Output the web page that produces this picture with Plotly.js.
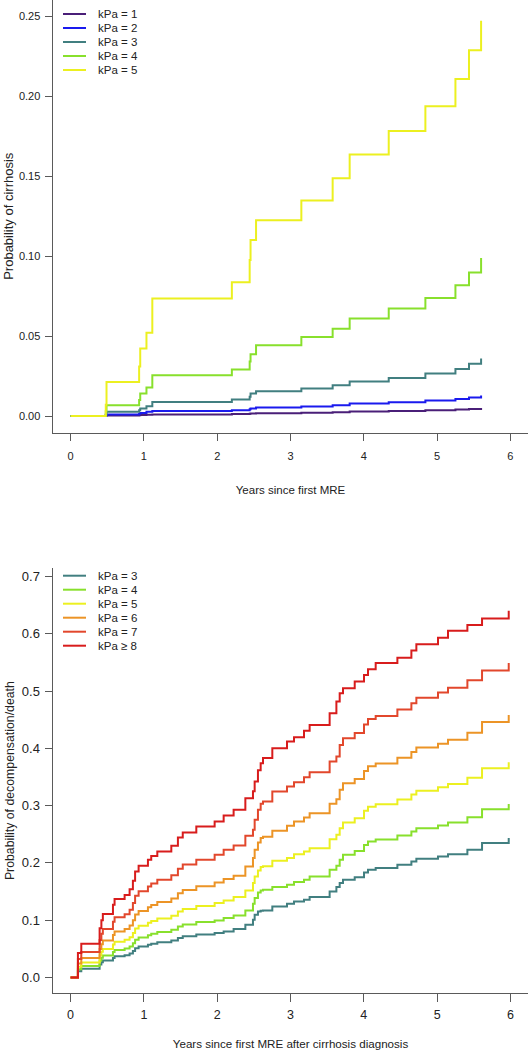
<!DOCTYPE html>
<html>
<head>
<meta charset="utf-8">
<script src="https://cdn.plot.ly/plotly-3.0.1.min.js"></script>
<style>
html,body{margin:0;padding:0;background:#ffffff;}
#chart{width:529px;height:1050px;}
</style>
</head>
<body>
<div id="chart"></div>
<script>
// ---------------- Top panel: probability of cirrhosis ----------------
const cirrhosisYears = [0, 0.48, 0.49, 0.935, 0.95, 1.035, 1.115, 2.20, 2.443, 2.455, 2.53, 3.148, 3.575, 3.807, 4.34, 4.84, 5.25, 5.435, 5.60];
const cirrhosisKpa1 = [0, 0.0001, 0.0003, 0.0005, 0.0006, 0.0008, 0.0010, 0.0012, 0.0014, 0.0015, 0.0017, 0.0020, 0.0024, 0.0028, 0.0032, 0.0036, 0.0040, 0.0044, 0.0050];
const cirrhosisKpa2 = [0, 0.0004, 0.0009, 0.0014, 0.0019, 0.0026, 0.0032, 0.0036, 0.0042, 0.0047, 0.0053, 0.0059, 0.0068, 0.0078, 0.0086, 0.0097, 0.0107, 0.0116, 0.0128];
const cirrhosisKpa3 = [0, 0.0010, 0.0026, 0.0036, 0.0047, 0.0061, 0.0088, 0.0103, 0.0120, 0.0140, 0.0155, 0.0172, 0.0193, 0.0215, 0.0238, 0.0266, 0.0294, 0.0326, 0.0359];
const cirrhosisKpa4 = [0, 0.0030, 0.0068, 0.0100, 0.0140, 0.0178, 0.0255, 0.0290, 0.0340, 0.0386, 0.0442, 0.0494, 0.0545, 0.0609, 0.0672, 0.0738, 0.0818, 0.0897, 0.0988];
const cirrhosisKpa5 = [0, 0.0070, 0.0213, 0.0310, 0.0422, 0.0520, 0.0735, 0.0836, 0.0975, 0.1100, 0.1224, 0.1347, 0.1486, 0.1634, 0.1782, 0.1936, 0.2107, 0.2286, 0.2470];
const cirrhosisLabels = ["kPa = 1", "kPa = 2", "kPa = 3", "kPa = 4", "kPa = 5"];
const cirrhosisColors = ["#4a1f78", "#1a1aee", "#417f80", "#88e02c", "#ecf020"];
const cirrhosisSeries = [cirrhosisKpa1, cirrhosisKpa2, cirrhosisKpa3, cirrhosisKpa4, cirrhosisKpa5];
const cirrhosisYTicks = [0, 0.05, 0.10, 0.15, 0.20, 0.25];

// ---------------- Bottom panel: probability of decompensation/death ----------------
const decompYears = [0, 0.10, 0.146, 0.396, 0.42, 0.44, 0.578, 0.60, 0.737, 0.805, 0.85, 0.88, 0.928, 1.055, 1.10, 1.183, 1.374, 1.464, 1.53, 1.715, 1.965, 2.088, 2.224, 2.384, 2.488, 2.511, 2.556, 2.593, 2.625, 2.752, 2.952, 3.048, 3.184, 3.261, 3.534, 3.626, 3.671, 3.716, 3.876, 4.003, 4.057, 4.162, 4.458, 4.649, 4.717, 5.012, 5.149, 5.413, 5.613, 5.977];
const decompKpa3 = [0, 0.0110, 0.0153, 0.0227, 0.0265, 0.0294, 0.0340, 0.0369, 0.0389, 0.0417, 0.0461, 0.0508, 0.0538, 0.0569, 0.0590, 0.0614, 0.0645, 0.0689, 0.0717, 0.0750, 0.0775, 0.0803, 0.0845, 0.0920, 0.1007, 0.1094, 0.1152, 0.1165, 0.1170, 0.1239, 0.1286, 0.1326, 0.1356, 0.1403, 0.1501, 0.1578, 0.1647, 0.1705, 0.1748, 0.1833, 0.1880, 0.1909, 0.1967, 0.2025, 0.2072, 0.2112, 0.2153, 0.2229, 0.2346, 0.2433];
const decompKpa4 = [0, 0.0144, 0.0200, 0.0295, 0.0345, 0.0383, 0.0442, 0.0479, 0.0505, 0.0542, 0.0598, 0.0659, 0.0697, 0.0737, 0.0763, 0.0794, 0.0834, 0.0891, 0.0926, 0.0968, 0.0995, 0.1037, 0.1082, 0.1169, 0.1286, 0.1386, 0.1483, 0.1518, 0.1530, 0.1578, 0.1618, 0.1665, 0.1705, 0.1763, 0.1880, 0.1949, 0.2054, 0.2141, 0.2206, 0.2314, 0.2373, 0.2407, 0.2478, 0.2549, 0.2606, 0.2654, 0.2704, 0.2796, 0.2936, 0.3030];
const decompKpa5 = [0, 0.0188, 0.0261, 0.0384, 0.0449, 0.0498, 0.0575, 0.0622, 0.0656, 0.0703, 0.0775, 0.0853, 0.0902, 0.0954, 0.0987, 0.1027, 0.1077, 0.1150, 0.1194, 0.1248, 0.1298, 0.1344, 0.1403, 0.1518, 0.1647, 0.1763, 0.1867, 0.1927, 0.1940, 0.2037, 0.2084, 0.2153, 0.2199, 0.2258, 0.2415, 0.2490, 0.2607, 0.2705, 0.2782, 0.2911, 0.2982, 0.3024, 0.3108, 0.3194, 0.3262, 0.3320, 0.3378, 0.3488, 0.3653, 0.3760];
const decompKpa6 = [0, 0.0244, 0.0338, 0.0498, 0.0581, 0.0644, 0.0742, 0.0803, 0.0845, 0.0906, 0.0998, 0.1097, 0.1159, 0.1224, 0.1266, 0.1316, 0.1380, 0.1471, 0.1527, 0.1594, 0.1658, 0.1717, 0.1775, 0.1937, 0.2084, 0.2229, 0.2356, 0.2433, 0.2455, 0.2560, 0.2647, 0.2723, 0.2792, 0.2869, 0.3031, 0.3113, 0.3276, 0.3393, 0.3465, 0.3606, 0.3689, 0.3738, 0.3837, 0.3935, 0.4014, 0.4081, 0.4149, 0.4274, 0.4462, 0.4585];
const decompKpa7 = [0, 0.0322, 0.0445, 0.0654, 0.0762, 0.0844, 0.0971, 0.1049, 0.1104, 0.1181, 0.1299, 0.1426, 0.1505, 0.1588, 0.1641, 0.1704, 0.1785, 0.1900, 0.1970, 0.2054, 0.2141, 0.2229, 0.2304, 0.2473, 0.2578, 0.2752, 0.2927, 0.3031, 0.3072, 0.3246, 0.3333, 0.3410, 0.3497, 0.3585, 0.3770, 0.3857, 0.4061, 0.4178, 0.4268, 0.4417, 0.4511, 0.4567, 0.4678, 0.4788, 0.4885, 0.4975, 0.5060, 0.5190, 0.5360, 0.5490];
const decompKpa8 = [0, 0.0426, 0.0588, 0.0860, 0.1000, 0.1106, 0.1270, 0.1370, 0.1440, 0.1540, 0.1690, 0.1850, 0.1950, 0.2054, 0.2120, 0.2200, 0.2300, 0.2443, 0.2530, 0.2635, 0.2723, 0.2827, 0.2927, 0.3130, 0.3250, 0.3420, 0.3620, 0.3740, 0.3830, 0.4003, 0.4120, 0.4195, 0.4310, 0.4410, 0.4614, 0.4817, 0.4963, 0.5050, 0.5166, 0.5280, 0.5380, 0.5490, 0.5585, 0.5710, 0.5820, 0.5930, 0.6056, 0.6155, 0.6270, 0.6405];
const decompLabels = ["kPa = 3", "kPa = 4", "kPa = 5", "kPa = 6", "kPa = 7", "kPa \u2265 8"];
const decompColors = ["#417f80", "#88e02c", "#ecf020", "#ec9426", "#e2472c", "#d81c1c"];
const decompSeries = [decompKpa3, decompKpa4, decompKpa5, decompKpa6, decompKpa7, decompKpa8];
const decompYTicks = [0, 0.1, 0.2, 0.3, 0.4, 0.5, 0.6, 0.7];

const xTicks = [0, 1, 2, 3, 4, 5, 6];

// ---------------- layout geometry ----------------
const W = 529, H = 1050;
const M = {l: 53, r: 1, t: 0, b: 57};
const plotH = H - M.t - M.b;            // 993 px
const topPanelPx = [0, 432.5];          // from top of plot area
const botPanelPx = [568.3, 993];
const topDomain = [1 - topPanelPx[1] / plotH, 1 - topPanelPx[0] / plotH];
const botDomain = [1 - botPanelPx[1] / plotH, 1 - botPanelPx[0] / plotH];

const FONT = "Liberation Sans, Arial, Helvetica, sans-serif";
const AXCOL = "#5a5a5a";
const TXT = "#222222";

const traces = [];
cirrhosisSeries.forEach((ys, i) => {
  traces.push({
    type: "scatter", mode: "lines", name: cirrhosisLabels[i],
    x: cirrhosisYears, y: ys, xaxis: "x", yaxis: "y",
    line: {shape: "hv", width: 2, color: cirrhosisColors[i]},
    showlegend: false
  });
});
decompSeries.forEach((ys, i) => {
  traces.push({
    type: "scatter", mode: "lines", name: decompLabels[i],
    x: decompYears, y: ys, xaxis: "x2", yaxis: "y2",
    line: {shape: "hv", width: 2, color: decompColors[i]},
    showlegend: false
  });
});

// hand-built compact legends (R-style), placed in axis-domain coordinates
const shapes = [];
const annotations = [];
function addLegend(labels, colors, xref, yref, panelHeightPx, firstRowPx) {
  const rowGap = 14;
  const plotW = W - M.l - M.r;
  labels.forEach((lab, i) => {
    const yy = 1 - (firstRowPx + i * rowGap) / panelHeightPx;
    shapes.push({
      type: "line", xref: xref, yref: yref,
      x0: 10 / plotW, x1: 33 / plotW, y0: yy, y1: yy,
      line: {color: colors[i], width: 2}
    });
    annotations.push({
      xref: xref, yref: yref, x: 43 / plotW, y: yy,
      xanchor: "left", yanchor: "middle", showarrow: false,
      text: lab, font: {family: FONT, size: 11.5, color: TXT}
    });
  });
}
addLegend(cirrhosisLabels, cirrhosisColors, "x domain", "y domain", topPanelPx[1] - topPanelPx[0], 14);
addLegend(decompLabels, decompColors, "x2 domain", "y2 domain", botPanelPx[1] - botPanelPx[0], 575.7 - botPanelPx[0]);

function baseAxis(extra) {
  return Object.assign({
    showgrid: false, zeroline: false, showline: true,
    linecolor: AXCOL, linewidth: 1,
    ticks: "outside", ticklen: 7.5, tickwidth: 1, tickcolor: AXCOL,
    tickfont: {family: FONT, size: 11, color: TXT},
    fixedrange: true
  }, extra);
}

const layout = {
  width: W, height: H,
  margin: M,
  paper_bgcolor: "#ffffff", plot_bgcolor: "#ffffff",
  font: {family: FONT, color: TXT},
  showlegend: false,
  xaxis: baseAxis({
    domain: [0, 1], anchor: "y", range: [-0.24, 6.24],
    tickmode: "array", tickvals: xTicks, ticktext: xTicks.map(String),
    ticklabelstandoff: 6,
    title: {text: "Years since first MRE", font: {family: FONT, size: 11.5, color: TXT}, standoff: 24}
  }),
  yaxis: baseAxis({
    domain: topDomain, anchor: "x", range: [-0.0103, 0.26],
    tickmode: "array", tickvals: cirrhosisYTicks, ticktext: cirrhosisYTicks.map(v => v.toFixed(2)),
    ticklabelstandoff: 2,
    title: {text: "Probability of cirrhosis", font: {family: FONT, size: 13, color: TXT}, standoff: 2}
  }),
  xaxis2: baseAxis({
    domain: [0, 1], anchor: "y2", range: [-0.24, 6.24],
    tickmode: "array", tickvals: xTicks, ticktext: xTicks.map(String),
    tickfont: {family: FONT, size: 12.5, color: TXT},
    ticklabelstandoff: 2,
    title: {text: "Years since first MRE after cirrhosis diagnosis", font: {family: FONT, size: 11.6, color: TXT}, standoff: 24}
  }),
  yaxis2: baseAxis({
    domain: botDomain, anchor: "x2", range: [-0.0272, 0.7145],
    tickmode: "array", tickvals: decompYTicks, ticktext: decompYTicks.map(v => v.toFixed(1)),
    tickfont: {family: FONT, size: 13, color: TXT},
    ticklabelstandoff: 2,
    title: {text: "Probability of decompensation/death", font: {family: FONT, size: 12.3, color: TXT}, standoff: 4}
  }),
  shapes: shapes,
  annotations: annotations
};

Plotly.newPlot("chart", traces, layout, {displayModeBar: false, staticPlot: true});
</script>
</body>
</html>
